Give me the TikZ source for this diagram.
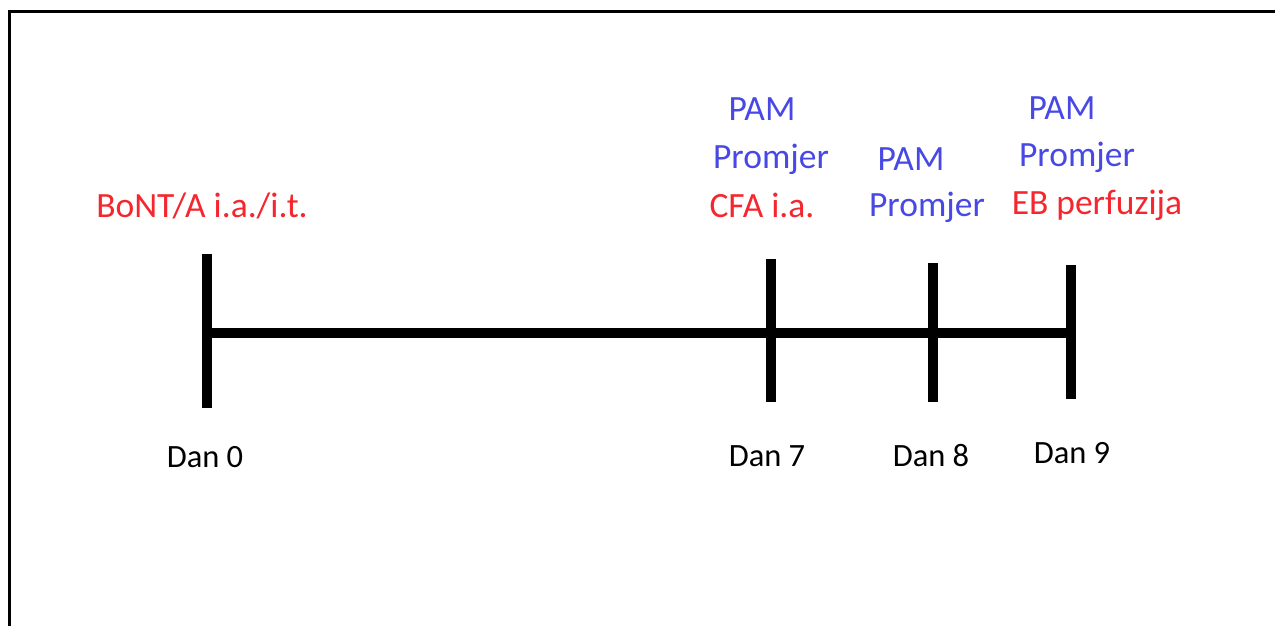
\documentclass[tikz,border=0pt]{standalone}
\usepackage{fontspec}
\setmainfont{Carlito}
\definecolor{tblue}{RGB}{72,72,228}
\definecolor{tred}{RGB}{245,38,45}
\begin{document}
\begin{tikzpicture}[x=1pt,y=-1pt,
  lbl/.style={anchor=base,inner sep=0pt,font=\fontsize{35.5}{38}\selectfont},
  bl/.style={lbl,text=tblue},
  rd/.style={lbl,text=tred},
  dn/.style={anchor=base,inner sep=0pt,font=\fontsize{32.5}{36}\selectfont,text=black},
  tick/.style={line width=10pt},
  axis/.style={line width=10pt}]
\useasboundingbox (0,0) rectangle (1275,626);
\begin{scope}
\clip (0,0) rectangle (1275,626);
\draw[line width=3pt] (9.5,640) -- (9.5,12) -- (1290,12);
\end{scope}
% ticks
\coordinate (t0a) at (207,254); \coordinate (t0b) at (207,408);
\coordinate (t7a) at (771,259); \coordinate (t7b) at (771,402);
\coordinate (t8a) at (933,263); \coordinate (t8b) at (933,402);
\coordinate (t9a) at (1071,265); \coordinate (t9b) at (1071,399);
\coordinate (a0) at (207,333); \coordinate (a9) at (1071,333);
\draw[axis] (a0) -- (a9);
\draw[tick] (t0a) -- (t0b);
\draw[tick] (t7a) -- (t7b);
\draw[tick] (t8a) -- (t8b);
\draw[tick] (t9a) -- (t9b);
% labels
\node[rd] (bont) at (202,217) {BoNT/A i.a./i.t.};
\node[bl] (pam7) at (762,120) {PAM};
\node[bl] (pro7) at (771,168) {Promjer};
\node[rd] (cfa) at (762,217) {CFA i.a.};
\node[bl] (pam8) at (911,170) {PAM};
\node[bl] (pro8) at (927,216) {Promjer};
\node[bl] (pam9) at (1062,119) {PAM};
\node[bl] (pro9) at (1077,166) {Promjer};
\node[rd] (eb) at (1097,214) {EB perfuzija};
\node[dn] (d0) at (205,467) {Dan 0};
\node[dn] (d7) at (767,466) {Dan 7};
\node[dn] (d8) at (931,466) {Dan 8};
\node[dn] (d9) at (1072,463) {Dan 9};
\end{tikzpicture}
\end{document}
